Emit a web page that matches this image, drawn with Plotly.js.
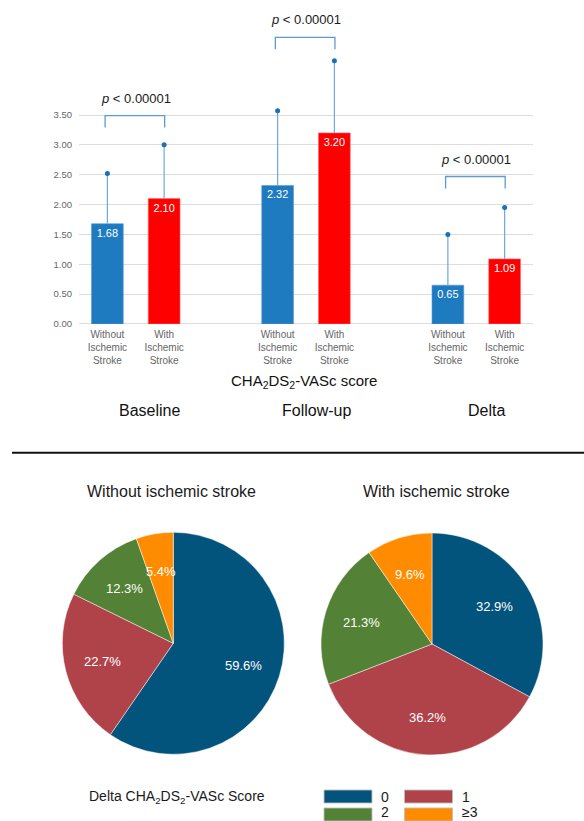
<!DOCTYPE html>
<html>
<head>
<meta charset="utf-8">
<script src="https://cdn.plot.ly/plotly-3.0.1.min.js"></script>
<style>html,body{margin:0;padding:0;background:#fff;}#chart{width:584px;height:821px;}</style>
</head>
<body>
<div id="chart"></div>
<script>
// ---- data ----
const groups = ['Baseline', 'Follow-up', 'Delta'];
const seriesNames = ['Without Ischemic Stroke', 'With Ischemic Stroke'];
const tickLabelWithout = 'Without<br>Ischemic<br>Stroke';
const tickLabelWith = 'With<br>Ischemic<br>Stroke';
const withoutMean = [1.68, 2.32, 0.65];
const withoutSD = [0.84, 1.25, 0.85];
const withMean = [2.10, 3.20, 1.09];
const withSD = [0.90, 1.21, 0.86];
const yTickVals = [0, 0.5, 1.0, 1.5, 2.0, 2.5, 3.0, 3.5];
const pTexts = ['<i>p</i> &lt; 0.00001', '<i>p</i> &lt; 0.00001', '<i>p</i> &lt; 0.00001'];
const bracketTop = [3.49, 4.80, 2.47];
const pTextY = [3.77, 5.10, 2.76];

const pieTitles = ['Without ischemic stroke', 'With ischemic stroke'];
const pieLabels = ['0', '1', '2', '\u22653'];
const pieWithout = [59.6, 22.7, 12.3, 5.4];
const pieWith = [32.9, 36.2, 21.3, 9.6];
const pieColors = ['#02547C', '#B0434A', '#538135', '#FF8C00'];

// ---- layout helpers ----
const W = 584, H = 821;
const px = x => x / W;
const py = y => (H - y) / H;
const FONT = 'Liberation Sans, Arial, sans-serif';
const posWithout = groups.map((g, i) => i * 3);
const posWith = groups.map((g, i) => i * 3 + 1);
const barBlue = '#1F7BC0', barRed = '#FF0000';
const errColor = '#6FA8DC', dotColor = '#1F6FB5', bracketColor = '#5B9BD5';

// pie geometry (pixels)
const pieGeo = [{cx: 173.3, cy: 643.3, r: 111}, {cx: 432, cy: 644, r: 111}];
const pieData = [pieWithout, pieWith];

const traces = [
  {
    type: 'bar', name: seriesNames[0], x: posWithout, y: withoutMean, width: 0.56,
    marker: {color: barBlue, line: {color: '#5B9BD5', width: 0.6}},
    error_y: {type: 'data', symmetric: false, array: withoutSD, arrayminus: withoutSD.map(() => 0),
              color: errColor, thickness: 1.2, width: 0},
    texttemplate: '%{y:.2f}', textposition: 'inside', insidetextanchor: 'end',
    textfont: {color: '#ffffff', size: 11, family: FONT}, hoverinfo: 'skip', showlegend: false
  },
  {
    type: 'bar', name: seriesNames[1], x: posWith, y: withMean, width: 0.56,
    marker: {color: barRed, line: {color: '#FF6666', width: 0.6}},
    error_y: {type: 'data', symmetric: false, array: withSD, arrayminus: withSD.map(() => 0),
              color: errColor, thickness: 1.2, width: 0},
    texttemplate: '%{y:.2f}', textposition: 'inside', insidetextanchor: 'end',
    textfont: {color: '#ffffff', size: 11, family: FONT}, hoverinfo: 'skip', showlegend: false
  },
  {
    type: 'scatter', mode: 'markers',
    x: posWithout.concat(posWith),
    y: withoutMean.map((m, i) => m + withoutSD[i]).concat(withMean.map((m, i) => m + withSD[i])),
    marker: {color: dotColor, size: 5}, cliponaxis: false, hoverinfo: 'skip', showlegend: false
  }
];
pieData.forEach((vals, k) => {
  const g = pieGeo[k];
  traces.push({
    type: 'pie', values: vals, labels: pieLabels, sort: false, direction: 'clockwise', rotation: 0,
    marker: {colors: pieColors, line: {color: 'rgba(255,255,255,0.6)', width: 0.8}},
    textinfo: 'none',
    domain: {x: [px(g.cx - g.r), px(g.cx + g.r)], y: [py(g.cy + g.r), py(g.cy - g.r)]},
    showlegend: false, hoverinfo: 'skip'
  });
});

const shapes = [];
const annotations = [];

// pie percentage labels at slice mid-angle
pieData.forEach((vals, k) => {
  const g = pieGeo[k];
  const total = vals.reduce((a, b) => a + b, 0);
  let cum = 0;
  vals.forEach((v) => {
    const mid = (cum + v / 2) / total * 2 * Math.PI;
    cum += v;
    const rr = 0.66 * g.r;
    annotations.push({xref: 'paper', yref: 'paper',
      x: px(g.cx + rr * Math.sin(mid)), y: py(g.cy - rr * Math.cos(mid)),
      xanchor: 'center', yanchor: 'middle', showarrow: false,
      text: v.toFixed(1) + '%', font: {size: 13, color: '#ffffff', family: FONT}});
  });
});

// significance brackets
groups.forEach((g, i) => {
  const x0 = posWithout[i], x1 = posWith[i], yt = bracketTop[i], yb = yt - 0.2;
  shapes.push({type: 'path', xref: 'x', yref: 'y',
    path: `M ${x0 - 0.04} ${yb} L ${x0 - 0.04} ${yt} L ${x1 + 0.01} ${yt} L ${x1 + 0.01} ${yb}`,
    line: {color: bracketColor, width: 1.3}});
  annotations.push({xref: 'x', yref: 'y', x: (x0 + x1) / 2, y: pTextY[i], text: pTexts[i],
    xanchor: 'center', yanchor: 'middle',
    showarrow: false, font: {size: 13, color: '#1a1a1a', family: FONT}});
});

// group labels
const groupLabelPx = [149, 316.7, 486.7];
groups.forEach((g, i) => {
  annotations.push({xref: 'paper', yref: 'paper', x: px(groupLabelPx[i]), y: py(410), text: g,
    xanchor: 'center', yanchor: 'middle',
    showarrow: false, font: {size: 16, color: '#111', family: FONT}});
});
// axis title
annotations.push({xref: 'paper', yref: 'paper', x: px(304), y: py(381),
  xanchor: 'center', yanchor: 'middle',
  text: 'CHA<sub>2</sub>DS<sub>2</sub>-VASc score', showarrow: false,
  font: {size: 15, color: '#111', family: FONT}});

// pie titles
const pieTitleX = [171.7, 436.7];
pieTitles.forEach((t, i) => {
  annotations.push({xref: 'paper', yref: 'paper', x: px(pieTitleX[i]), y: py(491.5), text: t,
    xanchor: 'center', yanchor: 'middle',
    showarrow: false, font: {size: 16, color: '#1a1a1a', family: FONT}});
});

// separator
shapes.push({type: 'line', xref: 'paper', yref: 'paper', x0: px(12), x1: 1, y0: py(452.7), y1: py(452.7),
  line: {color: '#111', width: 2}});

// custom legend
annotations.push({xref: 'paper', yref: 'paper', x: px(86.7), y: py(796.5), xanchor: 'left', yanchor: 'middle',
  text: 'Delta CHA<sub>2</sub>DS<sub>2</sub>-VASc Score', showarrow: false,
  font: {size: 14, color: '#1a1a1a', family: FONT}});
pieLabels.forEach((lab, i) => {
  const col = i % 2, row = Math.floor(i / 2);
  const sx = 324 + col * 80.5, sy = 790 + row * 18;
  shapes.push({type: 'rect', xref: 'paper', yref: 'paper', x0: px(sx), x1: px(sx + 48),
    y0: py(sy + 13), y1: py(sy), fillcolor: pieColors[i], line: {color: 'rgba(190,190,190,0.9)', width: 1}});
  annotations.push({xref: 'paper', yref: 'paper', x: px(sx + 55), y: py(sy + 6.5 - row * 2.5), xanchor: 'left', yanchor: 'middle',
    text: lab, showarrow: false, font: {size: 14, color: '#1a1a1a', family: FONT}});
});

const layout = {
  width: W, height: H,
  margin: {l: 0, r: 0, t: 0, b: 0},
  paper_bgcolor: '#ffffff', plot_bgcolor: '#ffffff',
  barmode: 'overlay',
  font: {family: FONT},
  xaxis: {
    domain: [px(79), px(533)], range: [-0.5, 7.5],
    tickvals: posWithout.concat(posWith),
    ticktext: posWithout.map(() => tickLabelWithout).concat(posWith.map(() => tickLabelWith)),
    tickfont: {size: 10, color: '#666666', family: FONT},
    showgrid: false, zeroline: false, showline: false, ticks: '', ticklabelstandoff: 3
  },
  yaxis: {
    domain: [py(324), py(324 - 5.4 * 59.71)], range: [0, 5.4],
    tickvals: yTickVals, tickformat: '.2f',
    tickfont: {size: 9.5, color: '#666666', family: FONT},
    showgrid: true, gridcolor: '#DDDDDD', gridwidth: 1,
    zeroline: true, zerolinecolor: '#DDDDDD', zerolinewidth: 1,
    showline: false, ticks: '', ticklabelstandoff: 6
  },
  shapes: shapes,
  annotations: annotations,
  showlegend: false
};

Plotly.newPlot('chart', traces, layout, {displayModeBar: false, staticPlot: true});
</script>
</body>
</html>
